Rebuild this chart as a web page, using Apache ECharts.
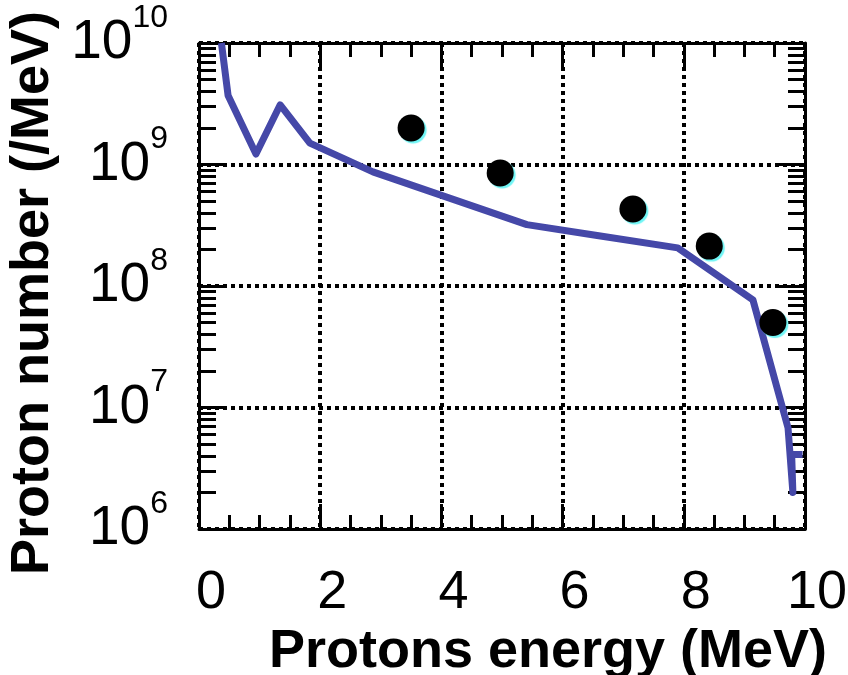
<!DOCTYPE html>
<html>
<head>
<meta charset="utf-8">
<script src="https://cdn.jsdelivr.net/npm/echarts@6/dist/echarts.min.js"></script>
<style>
  html, body { margin: 0; padding: 0; background: #fff; }
  #chart { width: 848px; height: 675px; }
</style>
</head>
<body>
<div id="chart"></div>
<script>
// Simulated spectrum (solid curve)
const simEnergy = [0.37, 0.48, 0.94, 1.34, 1.83, 2.87, 5.41, 6.57, 7.90, 9.14, 9.72, 9.80, 9.78, 9.96];
const simNumber = [1.0e10, 3.7e9, 1.22e9, 3.1e9, 1.5e9, 8.7e8, 3.2e8, 2.6e8, 2.06e8, 7.7e7, 6.8e6, 2.0e6, 4.1e6, 4.1e6];

// Measured points
const measEnergy = [3.50, 4.97, 7.16, 8.42, 9.47];
const measNumber = [2.0e9, 8.5e8, 4.3e8, 2.13e8, 5.0e7];

// Axis ranges and ticks
const xTicks = [0, 2, 4, 6, 8, 10];
const yDecades = [1e6, 1e7, 1e8, 1e9, 1e10];

// Minor log ticks: 2..9 within each decade
const yMinor = [];
for (let d = 0; d < yDecades.length - 1; d++) {
  for (let k = 2; k <= 9; k++) yMinor.push(k * yDecades[d]);
}

const FONT = "'Liberation Sans', Arial, sans-serif";
const BLACK = '#000';

const chart = echarts.init(document.getElementById('chart'), null, { renderer: 'canvas' });

const frameLine = { show: true, lineStyle: { color: BLACK, width: 3 } };
const dotted = { show: true, lineStyle: { color: BLACK, width: 4, type: [4, 4] } };

function xAxisBase(pos, withLabels) {
  return {
    type: 'value',
    position: pos,
    min: xTicks[0],
    max: xTicks[xTicks.length - 1],
    interval: 2,
    axisLine: frameLine,
    axisTick: { show: true, inside: true, length: 25, lineStyle: { color: BLACK, width: 3 } },
    minorTick: { show: true, splitNumber: 4, length: 14, lineStyle: { color: BLACK, width: 3 } },
    splitLine: withLabels ? dotted : { show: false },
    axisLabel: withLabels ? {
      show: true, margin: 37, color: BLACK, fontFamily: FONT, fontSize: 54,
      padding: [0, 0, 0, 24]
    } : { show: false }
  };
}

function yAxisMajor(pos, withLabels) {
  return {
    type: 'log',
    logBase: 10,
    position: pos,
    min: yDecades[0],
    max: yDecades[yDecades.length - 1],
    splitNumber: 4,
    axisLine: frameLine,
    axisTick: { show: true, inside: true, length: 27, lineStyle: { color: BLACK, width: 3 } },
    splitLine: withLabels ? dotted : { show: false },
    axisLabel: withLabels ? {
      show: true, margin: 31, color: BLACK,
      formatter: v => '{b|10}{s|' + Math.round(Math.log10(v)) + '}',
      rich: {
        b: { fontFamily: FONT, fontSize: 55, lineHeight: 82, color: BLACK },
        s: { fontFamily: FONT, fontSize: 32, lineHeight: 32, verticalAlign: 'top', color: BLACK }
      }
    } : { show: false }
  };
}

function yAxisMinor(pos) {
  return {
    type: 'log',
    logBase: 10,
    position: pos,
    min: yDecades[0],
    max: yDecades[yDecades.length - 1],
    axisLine: { show: false },
    axisTick: { show: true, inside: true, length: 17, customValues: yMinor, lineStyle: { color: BLACK, width: 3 } },
    splitLine: { show: false },
    axisLabel: { show: false }
  };
}

const xMain = xAxisBase('bottom', true);
xMain.name = 'Protons energy (MeV)';
xMain.nameLocation = 'middle';
xMain.nameGap = 85;
xMain.nameTextStyle = { fontFamily: FONT, fontSize: 54, fontWeight: 'bold', color: BLACK, padding: [0, 0, 0, 92] };

const yMain = yAxisMajor('left', true);
yMain.name = 'Proton number (/MeV)';
yMain.nameLocation = 'middle';
yMain.nameGap = 131;
yMain.nameTextStyle = { fontFamily: FONT, fontSize: 54, fontWeight: 'bold', color: BLACK, padding: [0, 14, 0, 0] };

chart.setOption({
  animation: false,
  backgroundColor: '#fff',
  grid: { left: 199, right: 43, top: 43, bottom: 146, containLabel: false, outerBoundsMode: 'none' },
  xAxis: [xMain, xAxisBase('top', false)],
  yAxis: [yMain, yAxisMinor('left'), yAxisMajor('right', false), yAxisMinor('right')],
  series: [
    {
      type: 'line',
      xAxisIndex: 0,
      yAxisIndex: 0,
      data: simEnergy.map((e, i) => [e, simNumber[i]]),
      showSymbol: false,
      symbol: 'none',
      clip: true,
      lineStyle: { color: '#4548a8', width: 7, join: 'round' },
      z: 3
    },
    {
      type: 'scatter',
      xAxisIndex: 0,
      yAxisIndex: 0,
      data: measEnergy.map((e, i) => [e, measNumber[i]]),
      symbol: 'circle',
      symbolSize: 27,
      itemStyle: {
        color: BLACK,
        opacity: 1,
        shadowColor: '#6ff5f5',
        shadowOffsetX: 2,
        shadowOffsetY: 2,
        shadowBlur: 1
      },
      z: 4
    }
  ]
});
</script>
</body>
</html>
